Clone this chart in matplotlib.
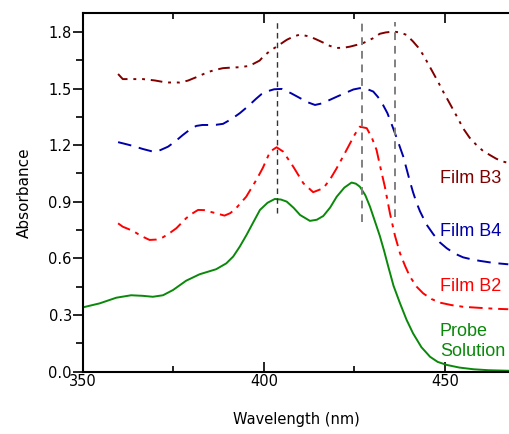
import matplotlib
matplotlib.use('Agg')
from matplotlib import pyplot as plt
from matplotlib.ticker import MultipleLocator

# 吸收光谱数据
probe_x = [350, 354.6, 359.2, 363.3, 366.5, 369.3, 372.1, 374.9, 378.5, 382.2, 386.8, 389.6, 391.5, 393.3,
           395.2, 396.9, 398.9, 401.0, 403.0, 404.7, 406.3, 408.2, 410.0, 412.7, 414.6, 416.4, 418.3, 420.1,
           422.2, 424.2, 425.4, 426.5, 428.0, 429.3, 430.6, 432.0, 433.2, 434.3, 435.8, 437.6, 439.4, 441.2,
           443.5, 445.9, 448.0, 450.5, 454.0, 457.9, 462.0, 467.7]
probe_y = [0.341, 0.362, 0.392, 0.405, 0.402, 0.397, 0.405, 0.433, 0.482, 0.516, 0.543, 0.574, 0.610, 0.662,
           0.725, 0.786, 0.857, 0.895, 0.915, 0.912, 0.901, 0.868, 0.830, 0.799, 0.805, 0.825, 0.870, 0.927,
           0.975, 1.002, 0.996, 0.980, 0.935, 0.874, 0.800, 0.720, 0.640, 0.560, 0.455, 0.362, 0.275, 0.203,
           0.130, 0.079, 0.052, 0.036, 0.022, 0.013, 0.008, 0.005]

b2_x = [359.7, 361.0, 363.8, 366.0, 368.4, 370.2, 372.1, 374.0, 375.8, 378.5, 380.2, 381.8, 383.5, 385.0,
        387.0, 389.1, 390.7, 392.3, 395.1, 397.9, 399.7, 401.7, 403.5, 405.3, 408.1, 410.9, 413.6, 416.4,
        418.3, 420.1, 422.0, 423.8, 425.2, 426.5, 428.4, 429.8, 431.1, 432.2, 433.4, 434.8, 436.2, 437.6,
        439.0, 440.3, 442.2, 444.0, 446.3, 448.6, 451.8, 455.0, 458.2, 461.5, 464.5, 467.5]
b2_y = [0.786, 0.768, 0.746, 0.720, 0.698, 0.700, 0.712, 0.735, 0.760, 0.813, 0.838, 0.857, 0.856, 0.848,
        0.838, 0.827, 0.840, 0.866, 0.927, 1.016, 1.080, 1.166, 1.189, 1.166, 1.086, 0.998, 0.951, 0.972,
        1.020, 1.078, 1.145, 1.210, 1.260, 1.298, 1.290, 1.240, 1.175, 1.080, 0.980, 0.840, 0.720, 0.627,
        0.560, 0.505, 0.450, 0.415, 0.385, 0.366, 0.353, 0.344, 0.340, 0.336, 0.333, 0.331]

b4_x = [359.7, 361.8, 363.8, 366.5, 369.3, 371.4, 373.5, 375.5, 377.6, 379.5, 381.3, 383.0, 385.0, 386.8,
        388.7, 391.0, 393.3, 395.6, 397.9, 399.3, 400.7, 402.8, 404.9, 407.4, 410.0, 412.0, 414.1, 416.2,
        418.2, 420.5, 422.8, 424.7, 426.5, 428.4, 430.2, 431.5, 432.9, 434.1, 435.3, 436.7, 438.5, 440.3,
        441.2, 442.2, 443.1, 444.9, 446.8, 448.6, 450.5, 452.8, 455.0, 457.4, 459.7, 463.5, 467.5]
b4_y = [1.216, 1.206, 1.196, 1.180, 1.166, 1.174, 1.192, 1.220, 1.254, 1.282, 1.302, 1.307, 1.307, 1.308,
        1.313, 1.338, 1.369, 1.406, 1.447, 1.470, 1.484, 1.496, 1.498, 1.476, 1.449, 1.428, 1.413, 1.422,
        1.440, 1.460, 1.479, 1.495, 1.502, 1.498, 1.484, 1.455, 1.413, 1.370, 1.310, 1.237, 1.139, 1.010,
        0.950, 0.893, 0.850, 0.780, 0.728, 0.685, 0.654, 0.625, 0.606, 0.595, 0.587, 0.576, 0.569]

b3_x = [359.7, 361.0, 363.5, 366.6, 369.8, 373.0, 376.7, 379.0, 381.3, 383.2, 385.0, 386.8, 388.7, 391.0,
        393.3, 396.0, 398.8, 399.8, 401.7, 403.5, 406.3, 408.2, 410.0, 412.7, 414.5, 416.4, 418.2, 420.1,
        422.0, 423.8, 425.4, 427.0, 428.6, 430.2, 432.0, 433.6, 435.7, 437.6, 439.4, 441.2, 442.6, 444.0,
        445.4, 446.8, 448.2, 449.5, 450.9, 452.3, 453.7, 455.0, 456.8, 458.7, 460.5, 462.4, 464.2, 466.1, 467.5]
b3_y = [1.577, 1.550, 1.550, 1.550, 1.543, 1.532, 1.532, 1.542, 1.560, 1.576, 1.590, 1.600, 1.608, 1.611,
        1.613, 1.620, 1.648, 1.669, 1.700, 1.722, 1.758, 1.776, 1.786, 1.775, 1.760, 1.743, 1.726, 1.715,
        1.716, 1.722, 1.730, 1.737, 1.752, 1.767, 1.790, 1.797, 1.802, 1.797, 1.784, 1.749, 1.718, 1.678,
        1.630, 1.581, 1.532, 1.484, 1.436, 1.387, 1.338, 1.290, 1.240, 1.201, 1.170, 1.148, 1.128, 1.113, 1.106]

# 峰位参考线
peak_x = [403.5, 427.0, 436.2]
peak_top = 1.853
peak_bottom = [0.839, 0.795, 0.821]
peak_colors = ['#333333', '#808080', '#808080']
peak_widths = [1.0, 1.4, 1.4]

fig = plt.figure(figsize=(5.09, 4.34), dpi=100)
ax = fig.add_axes([0.163, 0.1435, 0.837, 0.8265])

ax.plot(probe_x, probe_y, color='#0a880a', lw=1.4, ls='-')
ax.plot(b2_x, b2_y, color='red', lw=1.4, ls=(0, (7, 3, 2, 3)))
ax.plot(b4_x, b4_y, color='#0000aa', lw=1.4, ls=(0, (7, 4)))
ax.plot(b3_x, b3_y, color='#800000', lw=1.4, ls=(0, (6, 3, 1.5, 3, 1.5, 3)))

for px, pb, pc, pw in zip(peak_x, peak_bottom, peak_colors, peak_widths):
    ax.plot([px, px], [pb, peak_top], color=pc, lw=pw, ls=(0, (4, 3)))

lab_font = 'Liberation Sans'
ax.text(448.6, 1.026, 'Film B3', color='#800000', fontsize=13, family=lab_font, va='center')
ax.text(448.6, 0.742, 'Film B4', color='#0000aa', fontsize=13, family=lab_font, va='center')
ax.text(448.6, 0.454, 'Film B2', color='red', fontsize=13, family=lab_font, va='center')
ax.text(448.6, 0.16, 'Probe\nSolution', color='#0a880a', fontsize=13, family=lab_font, va='center',
        linespacing=1.25)

ax.set_xlim(350, 467.7)
ax.set_ylim(0, 1.9)
ax.xaxis.set_major_locator(MultipleLocator(50))
ax.xaxis.set_minor_locator(MultipleLocator(25))
ax.yaxis.set_minor_locator(MultipleLocator(0.15))
ax.set_yticks([0, 0.3, 0.6, 0.9, 1.2, 1.5, 1.8])
ax.set_yticklabels(['0.0', '0.3', '0.6', '0.9', '1.2', '1.5', '1.8'])

for s in ['left', 'bottom', 'top']:
    ax.spines[s].set_linewidth(1.5)
ax.spines['right'].set_visible(False)

ax.tick_params(axis='x', which='both', direction='in', top=True, width=1.2, labelsize=10.5, pad=2)
ax.tick_params(axis='x', which='major', length=7)
ax.tick_params(axis='x', which='minor', length=4)
ax.tick_params(axis='y', which='both', direction='out', width=1.2, labelsize=10.5, pad=1)
ax.tick_params(axis='y', which='major', length=7)
ax.tick_params(axis='y', which='minor', length=5)

ax.set_xlabel('Wavelength (nm)', fontsize=10.5, labelpad=16)
ax.set_ylabel('Absorbance', fontsize=11, labelpad=12)

fig.savefig('out.png', dpi=100)
